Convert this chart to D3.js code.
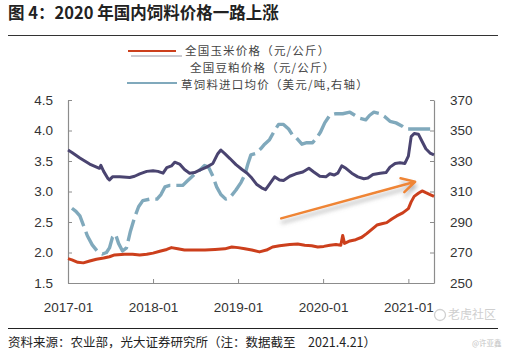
<!DOCTYPE html>
<html><head><meta charset="utf-8">
<script src="https://cdn.jsdelivr.net/npm/d3@7/dist/d3.min.js"></script>
<style>
html,body{margin:0;padding:0;background:#fff;}
svg{display:block;}
</style></head>
<body>
<svg id="chart" width="506" height="356"></svg>
<script>
const title = "图 4：2020 年国内饲料价格一路上涨";
const seriesNames = ["全国玉米价格（元/公斤）","全国豆粕价格（元/公斤）","草饲料进口均价（美元/吨,右轴）"];
const xTickLabels = ["2017-01","2018-01","2019-01","2020-01","2021-01"];
const leftTicks = [1.5,2.0,2.5,3.0,3.5,4.0,4.5];
const rightTicks = [250,270,290,310,330,350,370];
const sourceText = "资料来源：农业部，光大证券研究所（注：数据截至　2021.4.21）";

const soyDates = ["2017-01-01","2017-01-18","2017-02-21","2017-04-04","2017-05-16","2017-05-22","2017-06-03","2017-06-20","2017-06-28","2017-07-11","2017-08-11","2017-09-23","2017-10-14","2017-11-05","2017-12-05","2018-01-01","2018-01-22","2018-02-13","2018-03-01","2018-03-21","2018-04-04","2018-04-25","2018-05-16","2018-06-07","2018-06-28","2018-07-20","2018-08-19","2018-09-15","2018-10-06","2018-10-19","2018-11-05","2018-11-27","2018-12-23","2019-01-18","2019-02-09","2019-03-01","2019-03-21","2019-04-12","2019-04-29","2019-05-16","2019-06-07","2019-06-28","2019-07-15","2019-08-11","2019-09-06","2019-10-06","2019-11-01","2019-11-22","2019-12-18","2020-01-13","2020-01-30","2020-02-17","2020-03-04","2020-03-21","2020-04-08","2020-05-03","2020-05-29","2020-06-24","2020-07-11","2020-08-02","2020-09-02","2020-09-27","2020-10-14","2020-11-05","2020-11-26","2020-12-17","2021-01-01","2021-01-13","2021-01-26","2021-02-13","2021-03-01","2021-03-17","2021-04-04","2021-04-21"];
const soyValues = [3.68,3.64,3.55,3.45,3.38,3.43,3.33,3.22,3.19,3.24,3.24,3.23,3.25,3.29,3.33,3.34,3.33,3.30,3.39,3.42,3.48,3.45,3.36,3.30,3.31,3.35,3.40,3.46,3.62,3.68,3.62,3.54,3.44,3.36,3.30,3.22,3.12,3.06,3.03,3.12,3.24,3.19,3.18,3.25,3.29,3.32,3.38,3.32,3.25,3.24,3.29,3.27,3.30,3.42,3.38,3.30,3.24,3.21,3.22,3.28,3.30,3.31,3.40,3.46,3.47,3.46,3.58,3.90,3.95,3.94,3.82,3.70,3.63,3.60];

const cornDates = ["2017-01-01","2017-01-18","2017-02-12","2017-03-08","2017-04-04","2017-05-03","2017-06-03","2017-06-28","2017-07-20","2017-09-01","2017-10-05","2017-11-05","2017-12-05","2018-01-01","2018-01-30","2018-03-01","2018-03-21","2018-04-17","2018-05-16","2018-06-28","2018-08-12","2018-09-24","2018-11-05","2018-12-05","2019-01-01","2019-01-30","2019-03-01","2019-04-03","2019-05-03","2019-05-29","2019-06-28","2019-08-11","2019-09-14","2019-10-14","2019-11-13","2019-12-09","2020-01-04","2020-01-30","2020-02-25","2020-03-17","2020-03-25","2020-04-02","2020-04-25","2020-05-20","2020-06-15","2020-07-06","2020-07-28","2020-08-19","2020-09-09","2020-09-30","2020-10-22","2020-11-12","2020-12-08","2021-01-01","2021-01-13","2021-01-26","2021-02-13","2021-03-01","2021-03-17","2021-04-04","2021-04-21"];
const cornValues = [1.90,1.88,1.84,1.83,1.86,1.89,1.91,1.93,1.96,1.97,1.97,1.96,1.97,1.99,2.02,2.05,2.08,2.06,2.04,2.04,2.04,2.05,2.06,2.09,2.08,2.06,2.04,2.01,2.04,2.09,2.11,2.13,2.14,2.12,2.11,2.09,2.10,2.12,2.13,2.12,2.28,2.15,2.19,2.21,2.25,2.31,2.38,2.45,2.47,2.49,2.55,2.60,2.65,2.72,2.83,2.92,2.97,3.01,2.98,2.95,2.92];

const hayDates = ["2017-01-18","2017-02-04","2017-02-21","2017-03-08","2017-03-25","2017-04-15","2017-05-06","2017-05-29","2017-06-15","2017-06-28","2017-07-11","2017-07-24","2017-08-06","2017-08-23","2017-09-09","2017-09-26","2017-10-14","2017-10-31","2017-11-18","2017-12-18","2018-01-18","2018-02-04","2018-02-21","2018-03-14","2018-04-12","2018-05-08","2018-05-29","2018-06-19","2018-07-20","2018-08-10","2018-08-27","2018-09-15","2018-10-01","2018-10-19","2018-11-09","2018-11-27","2018-12-23","2019-01-14","2019-01-30","2019-02-12","2019-02-25","2019-03-18","2019-04-08","2019-04-25","2019-05-16","2019-06-07","2019-06-24","2019-07-15","2019-08-06","2019-08-23","2019-09-09","2019-10-02","2019-10-23","2019-11-17","2019-12-04","2019-12-21","2020-01-08","2020-01-30","2020-02-25","2020-03-25","2020-04-25","2020-05-16","2020-06-07","2020-07-02","2020-07-19","2020-08-06","2020-09-02","2020-09-22","2020-10-14","2020-11-09","2020-12-04","2020-12-21","2021-01-17","2021-02-20","2021-04-21"];
const hayValues = [299,297,294,288,281,275,271,269,270,273,280,282,276,271,273,284,293,300,304,305,305,308,313,314,314,314,317,320,324,327,326,320,313,308,305,306,311,316,321,328,334,335,338,341,344,350,354,354,351,347,345,341,342,342,345,349,355,360,361,361,362,360,358,357,360,362,361,359,356,355,353,351,351,351,351];

// trend arrow annotation (data space, left axis)
const arrowStart = ["2019-07-05", 2.56];
const arrowEnd = ["2021-01-30", 3.16];

const parse = d3.timeParse("%Y-%m-%d");
const svg = d3.select("#chart");
const M = {left:68, right:434, top:100, bottom:283};

const x = d3.scaleTime().domain([parse("2017-01-01"), parse("2021-04-21")]).range([M.left, M.right]);
const yL = d3.scaleLinear().domain([1.5,4.5]).range([M.bottom, M.top]);
const yR = d3.scaleLinear().domain([250,370]).range([M.bottom, M.top]);

const numFont = "'Liberation Sans', Arial, sans-serif";
const cjkFont = "'Noto Sans CJK SC', 'Noto Sans', sans-serif";
const colCorn = "#cc3f1c", colSoy = "#4a4470", colHay = "#80a9bc", axisCol = "#8c8c8c";

// title
svg.append("text").attr("x", 8).attr("y", 19).text(title)
  .attr("font-family", cjkFont).attr("font-size", 16.5).attr("font-weight", "bold").attr("fill", "#222");
svg.append("line").attr("x1", 8).attr("x2", 498).attr("y1", 35.5).attr("y2", 35.5).attr("stroke", "#333").attr("stroke-width", 1);

// legend
const lg = svg.append("g");
lg.append("line").attr("x1",128).attr("x2",176).attr("y1",51).attr("y2",51).attr("stroke",colCorn).attr("stroke-width",2);
lg.append("line").attr("x1",131).attr("x2",182).attr("y1",56).attr("y2",56).attr("stroke","#9a9aa6").attr("stroke-width",1.2);
lg.append("line").attr("x1",127).attr("x2",177).attr("y1",83).attr("y2",83).attr("stroke",colHay).attr("stroke-width",2);
const legText = [[185,50.5],[190,67.5],[181,84.5]];
seriesNames.forEach((n,i)=>{
  lg.append("text").attr("x",legText[i][0]).attr("y",legText[i][1]).attr("dy","0.35em").text(n)
    .attr("font-family",cjkFont).attr("font-size",11.5).attr("letter-spacing",1.2).attr("fill","#444");
});

// axes
const fmtTime = d3.timeFormat("%Y-%m");
const gx = svg.append("g").attr("transform",`translate(0,${M.bottom})`)
  .call(d3.axisBottom(x).tickValues(xTickLabels.map(s=>parse(s+"-01"))).tickFormat(fmtTime).tickSizeInner(-4).tickSizeOuter(0).tickPadding(19));
const gl = svg.append("g").attr("transform",`translate(${M.left},0)`)
  .call(d3.axisLeft(yL).tickValues(leftTicks).tickFormat(d3.format(".1f")).tickSizeInner(-4).tickSizeOuter(0).tickPadding(15));
const gr = svg.append("g").attr("transform",`translate(${M.right},0)`)
  .call(d3.axisRight(yR).tickValues(rightTicks).tickFormat(d3.format("d")).tickSizeInner(-4).tickSizeOuter(0).tickPadding(16));
[gx,gl,gr].forEach(g=>{
  g.selectAll("path.domain").attr("stroke",axisCol).attr("stroke-width",1.2);
  g.selectAll(".tick line").attr("stroke",axisCol);
  g.selectAll("text").attr("font-family",numFont).attr("font-size",13.5).attr("fill","#333");
});

// series
const mk = (dates, vals) => dates.map((d,i)=>({d:parse(d), v:vals[i]}));
const lineL = d3.line().x(p=>x(p.d)).y(p=>yL(p.v));
const lineR = d3.line().x(p=>x(p.d)).y(p=>yR(p.v));

svg.append("path").datum(mk(hayDates,hayValues)).attr("d",lineR)
  .attr("fill","none").attr("stroke",colHay).attr("stroke-width",3.4).attr("stroke-dasharray","22,6").attr("stroke-linejoin","round");
svg.append("path").datum(mk(soyDates,soyValues)).attr("d",lineL)
  .attr("fill","none").attr("stroke",colSoy).attr("stroke-width",3).attr("stroke-linejoin","round");
svg.append("path").datum(mk(cornDates,cornValues)).attr("d",lineL)
  .attr("fill","none").attr("stroke",colCorn).attr("stroke-width",3).attr("stroke-linejoin","round");

// arrow with shadow
const defs = svg.append("defs");
const f = defs.append("filter").attr("id","sh").attr("x","-20%").attr("y","-50%").attr("width","140%").attr("height","200%");
f.append("feDropShadow").attr("dx",1).attr("dy",4).attr("stdDeviation",2).attr("flood-color","#777").attr("flood-opacity",0.55);
const ax1 = x(parse(arrowStart[0])), ay1 = yL(arrowStart[1]);
const ax2 = x(parse(arrowEnd[0])), ay2 = yL(arrowEnd[1]);
const ang = Math.atan2(ay2-ay1, ax2-ax1);
const hl = 15, ha = 0.5;
const ag = svg.append("g").attr("filter","url(#sh)");
ag.append("path")
  .attr("d",`M${ax1},${ay1}L${ax2},${ay2}M${ax2-hl*Math.cos(ang-ha)},${ay2-hl*Math.sin(ang-ha)}L${ax2},${ay2}L${ax2-hl*Math.cos(ang+ha)},${ay2-hl*Math.sin(ang+ha)}`)
  .attr("fill","none").attr("stroke","#ef8535").attr("stroke-width",2.5).attr("stroke-linecap","round").attr("stroke-linejoin","round");

// watermark
const wm = svg.append("g");
wm.append("circle").attr("cx",440).attr("cy",315).attr("r",5.5).attr("fill","none").attr("stroke","#d0d0d0").attr("stroke-width",1.3);
wm.append("text").attr("x",448).attr("y",315).attr("dy","0.35em").text("老虎社区")
  .attr("font-family",cjkFont).attr("font-size",12).attr("fill","#cfcfcf");

// bottom rule and source
svg.append("line").attr("x1",8).attr("x2",498).attr("y1",328.5).attr("y2",328.5).attr("stroke","#222").attr("stroke-width",1);
svg.append("text").attr("x",8).attr("y",343).attr("dy","0.35em").text(sourceText)
  .attr("font-family",cjkFont).attr("font-size",12.5).attr("fill","#222");
svg.append("text").attr("x",472).attr("y",343).attr("dy","0.35em").text("@许亚鑫")
  .attr("font-family",cjkFont).attr("font-size",7.5).attr("fill","#c4c4c4");
</script>
</body></html>
